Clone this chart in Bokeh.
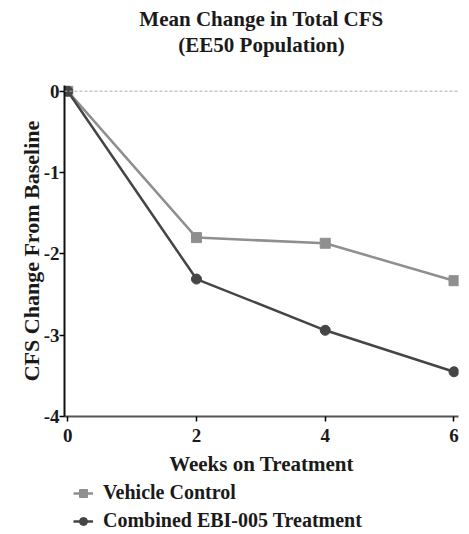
from bokeh.plotting import figure
from bokeh.models import Range1d, Legend, LegendItem, Title, Span, FixedTicker, PrintfTickFormatter
from bokeh.layouts import column
from bokeh.embed import file_html
from bokeh.resources import INLINE

weeks = [0, 2, 4, 6]
vehicle = [0, -1.80, -1.87, -2.33]
combined = [0, -2.31, -2.94, -3.45]
x_ticks = [0, 2, 4, 6]
y_ticks = [0, -1, -2, -3, -4]
series_names = ["Vehicle Control", "Combined EBI-005 Treatment"]
title_lines = ["Mean Change in Total CFS", "(EE50 Population)"]

FONT = "Liberation Serif"
TXT = "#1a1a1a"
C_VEH = "#8f8f8f"
C_COMB = "#454545"

# title panel
t = figure(width=461, height=60, output_backend="svg", toolbar_location=None,
           x_range=Range1d(100, 101), y_range=Range1d(100, 101),
           min_border_left=64, min_border_right=3, min_border_top=57, min_border_bottom=0)
t.title = None
t.axis.visible = False
t.grid.visible = False
t.outline_line_color = None
t.add_layout(Title(text="\n".join(title_lines), align="center", text_align="center",
                   text_font=FONT, text_font_size="21px", text_font_style="bold",
                   text_color=TXT, text_line_height=1.1, standoff=0), "above")

p = figure(width=461, height=418, output_backend="svg", toolbar_location=None,
           x_range=Range1d(-0.05, 6.07), y_range=Range1d(-4, 0.07),
           min_border_left=64, min_border_right=3, min_border_top=25, min_border_bottom=61)
p.title = None
p.grid.visible = False
p.outline_line_color = None

p.add_layout(Span(location=0, dimension="width", line_color="#aaaaaa",
                  line_dash="3 2", line_width=1))

p.line(weeks, vehicle, line_color=C_VEH, line_width=2.5)
p.scatter(weeks, vehicle, marker="square", size=10, fill_color=C_VEH, line_color=C_VEH)
p.line(weeks, combined, line_color=C_COMB, line_width=2.5)
p.scatter(weeks, combined, marker="circle", size=10, fill_color=C_COMB, line_color=C_COMB)

p.xaxis.ticker = FixedTicker(ticks=x_ticks)
p.yaxis.ticker = FixedTicker(ticks=y_ticks)
p.xaxis.formatter = PrintfTickFormatter(format="%d")
p.yaxis.formatter = PrintfTickFormatter(format="%d")
for ax in (p.xaxis[0], p.yaxis[0]):
    ax.major_label_text_font = FONT
    ax.major_label_text_font_size = "19px"
    ax.major_label_text_font_style = "bold"
    ax.major_label_text_color = TXT
    ax.axis_label_text_font = FONT
    ax.axis_label_text_font_style = "bold"
    ax.axis_label_text_color = TXT
    ax.minor_tick_line_color = None
    ax.major_tick_out = 5
    ax.major_tick_in = 0
    ax.axis_line_width = 2
    ax.major_tick_line_width = 1.5
p.xaxis.axis_label = "Weeks on Treatment"
p.yaxis.axis_label = "CFS Change From Baseline"
p.xaxis.axis_label_text_font_size = "21px"
p.yaxis.axis_label_text_font_size = "22px"
p.xaxis.axis_line_color = "#555555"
p.yaxis.axis_line_color = "#111111"
p.xaxis.major_label_standoff = 7
p.yaxis.major_label_standoff = 0
p.xaxis.axis_label_standoff = 7
p.yaxis.axis_label_standoff = -3

# legend panel (legend renderers use the same data, placed outside this panel's visible range)
q = figure(width=461, height=54, output_backend="svg", toolbar_location=None,
           x_range=Range1d(100, 101), y_range=Range1d(100, 101),
           min_border_left=0, min_border_right=0, min_border_top=0, min_border_bottom=0)
q.axis.visible = False
q.grid.visible = False
q.outline_line_color = None
l1 = q.line(weeks, vehicle, line_color=C_VEH, line_width=2.5)
s1 = q.scatter(weeks, vehicle, marker="square", size=10, fill_color=C_VEH, line_color=C_VEH)
l2 = q.line(weeks, combined, line_color=C_COMB, line_width=2.5)
s2 = q.scatter(weeks, combined, marker="circle", size=10, fill_color=C_COMB, line_color=C_COMB)
legend = Legend(items=[LegendItem(label=series_names[0], renderers=[l1, s1]),
                       LegendItem(label=series_names[1], renderers=[l2, s2])],
                location=(9, 0), orientation="vertical",
                label_text_font=FONT, label_text_font_size="20px",
                label_text_font_style="bold", label_text_color=TXT,
                glyph_width=20, glyph_height=20, label_height=20, spacing=5, padding=0,
                margin=0, border_line_color=None, background_fill_alpha=0,
                label_standoff=10)
q.add_layout(legend)

layout = column(t, p, q, spacing=0)
open("out.html", "w").write(file_html(layout, INLINE))
